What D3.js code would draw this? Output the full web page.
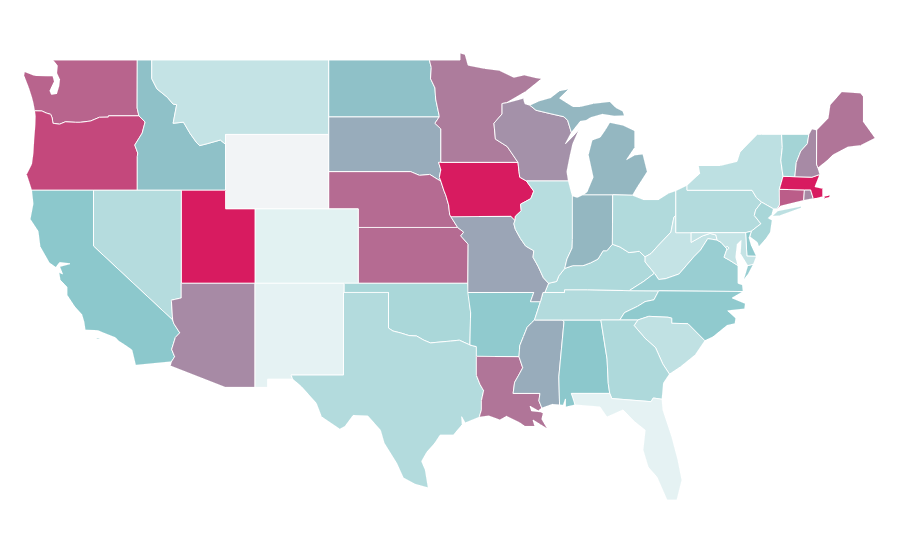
<!DOCTYPE html>
<html>
<head>
<meta charset="utf-8">
<script src="https://cdn.jsdelivr.net/npm/d3@7"></script>
<style>
  html, body { margin: 0; background: #fff; }
  svg { display: block; }
  .state { stroke: #fff; stroke-width: 0.9; stroke-linejoin: round; shape-rendering: crispEdges; }
</style>
</head>
<body>
<svg id="map" width="900" height="560"></svg>
<script>
// shared borders, [lon, lat]
const columbia = [[-124.0,46.27],[-123.5,46.26],[-123.2,46.15],[-122.9,46.08],[-122.8,45.88],[-122.75,45.6],[-122.3,45.55],[-121.9,45.68],[-121.2,45.65],[-120.9,45.65],[-120.2,45.72],[-119.6,45.92],[-119.0,45.93],[-118.98,46.0],[-116.92,46.0]];
const snake = [[-116.92,46.0],[-116.5,45.67],[-116.7,45.07],[-117.2,44.43],[-117.0,44.0],[-117.03,43.8],[-117.03,42]];
const bitterroot = [[-116.05,49],[-116.05,48.0],[-115.7,47.45],[-115.0,47.0],[-114.6,46.63],[-114.36,46.6],[-114.6,45.6],[-113.9,45.66],[-113.45,45.05],[-113.0,44.55],[-112.8,44.4],[-112.3,44.5],[-111.4,44.7],[-111.05,44.47]];
const redNorth = [[-97.23,49],[-97.1,48.6],[-97.15,48.0],[-96.85,47.5],[-96.8,46.9],[-96.56,46.0],[-96.56,45.94]];
const mnSd = [[-96.56,45.94],[-96.85,45.6],[-96.45,45.3],[-96.45,43.5]];
const bigSioux = [[-96.6,43.5],[-96.45,43.1],[-96.55,42.7],[-96.45,42.49]];
const missouriUpper = [[-98.5,43],[-97.9,42.8],[-97.2,42.85],[-96.7,42.6],[-96.45,42.49]];
const missouriIowa = [[-96.45,42.49],[-96.25,42.0],[-96.1,41.7],[-95.92,41.2],[-95.85,40.7],[-95.77,40.58]];
const missouriLower = [[-95.77,40.58],[-95.31,40.0]];
const missouriKs = [[-95.31,40.0],[-94.9,39.75],[-95.1,39.55],[-94.6,39.1],[-94.62,37]];
const upperMiss = [[-91.22,43.5],[-91.15,43.0],[-91.1,42.7],[-90.65,42.5]];
const iowaIl = [[-90.65,42.5],[-90.15,41.95],[-90.35,41.55],[-91.05,41.25],[-91.0,40.9],[-91.4,40.6],[-91.42,40.38]];
const missIl = [[-91.42,40.38],[-91.5,40.2],[-91.4,39.9],[-91.05,39.4],[-90.7,39.0],[-90.15,38.75],[-90.2,38.4],[-89.85,37.9],[-89.5,37.3],[-89.15,37.0]];
const missKyTn = [[-89.15,37.0],[-89.4,36.5]];
const missBoot = [[-89.4,36.5],[-89.53,36.5],[-89.7,36.0]];
const missTn = [[-89.7,36.0],[-89.9,35.5],[-90.1,35.0]];
const missAr = [[-90.1,35.0],[-90.3,34.85],[-90.6,34.6],[-90.85,34.1],[-91.1,33.6],[-91.15,33.0]];
const missLa = [[-91.15,33.0],[-90.9,32.4],[-91.1,32.1],[-91.45,31.6],[-91.55,31.0]];
const colorado = [[-114.63,35.0],[-114.55,34.8],[-114.15,34.3],[-114.45,34.05],[-114.7,33.4],[-114.5,33.0],[-114.72,32.72]];
const red = [[-100,34.56],[-99.7,34.4],[-99.2,34.3],[-98.6,34.15],[-98.1,34.13],[-97.6,33.9],[-97.15,33.75],[-96.5,33.8],[-95.8,33.85],[-95.2,33.9],[-94.48,33.64]];
const sabine = [[-94.04,31.99],[-93.8,31.5],[-93.55,31.15],[-93.7,30.6],[-93.7,30.1],[-93.85,29.7]];
const pearl = [[-89.73,31.0],[-89.8,30.6],[-89.6,30.2]];
const stCroix = [[-92.3,46.66],[-92.3,46.1],[-92.85,45.6],[-92.75,44.75],[-91.95,44.35],[-91.22,43.5]];
const wiUp = [[-90.42,46.57],[-90.0,46.3],[-89.1,46.13],[-88.1,45.95],[-87.85,45.75],[-87.6,45.1]];
const wabash = [[-88.05,37.8],[-87.9,38.3],[-87.55,38.9],[-87.53,39.35],[-87.53,41.7]];
const ohioIn = [[-84.82,39.1],[-85.2,38.75],[-85.45,38.75],[-85.8,38.3],[-86.3,38.1],[-86.8,37.95],[-87.5,37.95],[-88.05,37.8]];
const ohioIl = [[-88.05,37.8],[-88.45,37.4],[-88.6,37.1],[-89.15,37.0]];
const ohioOh = [[-82.6,38.42],[-83.0,38.72],[-83.7,38.65],[-84.3,38.95],[-84.82,39.1]];
const ohioWv = [[-80.52,40.64],[-80.65,40.55],[-80.85,39.75],[-81.75,39.0],[-82.2,38.6],[-82.6,38.42]];
const bigSandy = [[-82.6,38.42],[-82.6,38.15],[-81.97,37.54]];
const kyVa = [[-81.97,37.54],[-82.7,37.1],[-83.68,36.6]];
const kyTn = [[-83.68,36.6],[-86.5,36.65],[-88.07,36.65],[-88.07,36.5],[-89.4,36.5]];
const wvVa = [[-81.97,37.54],[-81.68,37.2],[-81.2,37.25],[-80.3,37.5],[-79.3,38.42],[-78.85,38.78],[-78.35,39.4],[-77.72,39.32]];
const potomac = [[-77.72,39.32],[-77.45,39.2],[-77.05,38.85],[-77.25,38.4],[-76.9,38.25],[-76.3,37.95]];
const wvMd = [[-77.72,39.32],[-77.8,39.6],[-78.2,39.68],[-78.7,39.55],[-79.48,39.2],[-79.48,39.72]];
const tnNc = [[-81.68,36.59],[-82.0,36.1],[-82.6,36.0],[-83.1,35.75],[-84.0,35.4],[-84.32,35.0]];
const ncSc = [[-83.1,35.0],[-82.35,35.2],[-81.05,35.15],[-80.8,35.1],[-80.8,34.82],[-79.7,34.8],[-78.55,33.87]];
const savannah = [[-83.1,35.0],[-83.35,34.7],[-82.6,34.0],[-81.9,33.5],[-81.4,32.6],[-80.95,32.05]];
const chattahoochee = [[-85.6,35.0],[-85.18,32.87],[-85.1,31.55],[-85.0,31.0]];
const flGa = [[-85.0,31.0],[-84.86,30.72],[-82.2,30.55],[-82.05,30.75],[-81.45,30.68]];
const msAl = [[-88.2,35.0],[-88.1,34.9],[-88.45,31.9],[-88.4,30.37]];
const delaware = [[-75.4,39.8],[-74.75,40.2],[-75.2,40.65],[-75.1,40.95],[-74.7,41.36]];
const nhVt = [[-71.5,45.0],[-71.6,44.5],[-72.05,44.1],[-72.35,43.5],[-72.45,42.73]];
const nyVt = [[-73.35,45.0],[-73.3,44.3],[-73.4,43.6],[-73.25,42.75]];

const r = a => a.slice().reverse();
const ring = (...parts) => parts.flat();

const stateNames = ["WA","OR","ID","MT","WY","ND","SD","NE","KS","CO","UT","NV","CA","AZ","NM","OK","TX","AR","LA","MS","AL","TN","KY","MO","IA","MN","WI","IL","IN","MI","OH","WV","VA","NC","SC","GA","FL","PA","NY","NJ","DE","MD","DC","CT","RI","MA","VT","NH","ME"];
const stateValues = [79,87,52,24,0,52,58,77,77,10,100,31,50,68,8,36,32,48,74,58,50,32,34,60,100,72,66,30,55,55,33,24,44,48,26,34,8,32,27,37,48,24,30,81,68,100,39,68,74];

const waRing = ring([[-117.03,49],[-117.04,46.42]], r(columbia), [[-124.1,46.7],[-124.2,47.0],[-124.4,47.5],[-124.73,48.17],[-124.68,48.38],[-124.0,48.17],[-123.2,48.15],[-122.75,48.15],[-122.65,47.85],[-122.95,47.35],[-122.85,47.15],[-122.5,47.2],[-122.35,47.6],[-122.3,47.95],[-122.5,48.3],[-122.45,48.7],[-122.76,49]]);
const orRing = ring(columbia, snake, [[-124.2,42],[-124.4,42.5],[-124.55,42.85],[-124.2,43.4],[-124.1,44.0],[-124.05,44.7],[-123.97,45.5],[-123.95,46.0]]);
const idRing = ring([[-117.03,49]], bitterroot, [[-111.05,42]], r(snake), [[-117.04,46.42]]);
const mtRing = ring(bitterroot, [[-111.05,45],[-104.05,45],[-104.05,49]]);
const wyRing = [[-111.05,45],[-104.05,45],[-104.05,41],[-111.05,41]];
const ndRing = ring(redNorth, [[-104.05,45.94],[-104.05,49]]);
const sdRing = ring(mnSd, [[-96.6,43.5]], bigSioux, r(missouriUpper), [[-104.05,43],[-104.05,45.94]]);
const neRing = ring([[-104.05,43]], missouriUpper, missouriIowa, missouriLower, [[-102.05,40],[-102.05,41],[-104.05,41]]);
const ksRing = ring([[-102.05,40]], missouriKs, [[-102.05,37]]);
const coRing = [[-109.05,41],[-102.05,41],[-102.05,37],[-109.05,37]];
const utRing = [[-114.05,42],[-111.05,42],[-111.05,41],[-109.05,41],[-109.05,37],[-114.05,37]];
const nvRing = [[-120,42],[-114.05,42],[-114.05,36.2],[-114.72,36.08],[-114.63,35.0],[-120,39]];
const caRing = ring([[-124.2,42],[-120,42],[-120,39]], colorado, [[-117.15,32.53],[-117.2,32.7],[-117.4,33.37],[-117.9,33.65],[-118.3,33.85],[-118.5,34.03],[-119.35,34.3],[-119.7,34.42],[-120.57,34.45],[-120.65,34.9],[-120.8,35.3],[-121.3,35.75],[-121.8,36.36],[-121.8,36.8],[-122.27,37.18],[-122.35,37.6],[-122.1,37.5],[-122.3,37.9],[-121.6,38.05],[-122.3,38.12],[-122.55,37.85],[-123.0,38.1],[-123.63,38.98],[-123.76,39.8],[-124.3,40.45],[-124.1,41.27]]);
const caIsland = [[-119.9,34.03],[-119.5,34.02],[-119.7,33.95]];
const azRing = ring([[-114.05,37],[-109.05,37],[-109.05,31.33],[-111.07,31.33],[-114.8,32.5]], r(colorado), [[-114.72,36.08],[-114.05,36.2]]);
const nmRing = [[-109.05,37],[-103.0,37],[-103.05,32],[-106.6,32],[-106.5,31.78],[-108.2,31.78],[-108.2,31.33],[-109.05,31.33]];
const okRing = ring([[-103,37],[-94.62,37],[-94.43,35.4]], r(red), [[-100,36.5],[-103,36.5]]);
const txRing = ring([[-103.05,36.5],[-100,36.5]], red, [[-94.04,33.55]], sabine, [[-94.8,29.39],[-95.04,29.73],[-95.0,29.3],[-95.6,28.73],[-96.5,28.73],[-96.85,28.3],[-97.4,27.8],[-97.75,27.3],[-97.5,26.83],[-97.3,25.85],[-98.2,26.05],[-99.0,26.4],[-99.45,27.2],[-100.3,28.3],[-100.55,29.0],[-101.4,29.77],[-102.4,29.8],[-102.95,29.2],[-103.3,29.05],[-104.55,29.73],[-104.9,30.47],[-105.9,31.37],[-106.5,31.78],[-106.6,32],[-103.05,32]]);
const arRing = ring([[-94.62,36.5],[-90.15,36.5],[-90.37,36.0]], missTn, missAr, [[-94.04,33.02],[-94.04,33.55],[-94.48,33.64],[-94.43,35.4]]);
const laRing = ring([[-94.04,33.02]], missLa, pearl, [[-89.85,30.05],[-90.4,30.3],[-90.3,30.05],[-89.7,30.0],[-89.5,29.93],[-89.6,29.6],[-89.2,29.05],[-89.7,29.3],[-90.2,29.55],[-90.07,29.2],[-90.75,29.2],[-91.1,29.4],[-92.0,29.75],[-92.45,29.55],[-93.2,29.77]], r(sabine));
const msRing = ring(msAl, [[-88.9,30.4]], r(pearl), r(missLa), r(missAr));
const alRing = ring([[-88.2,35.0],[-85.6,35.0]], chattahoochee.slice(1), [[-87.6,31.0],[-87.4,30.65],[-87.35,30.37],[-88.0,30.25],[-88.0,30.7],[-88.15,30.35]], r(msAl));
const tnRing = ring(r(kyTn), tnNc, [[-85.6,35.0],[-88.2,35.0]], r(missTn), r(missBoot));
const kyRing = ring(r(ohioIl), r(ohioIn), r(ohioOh), bigSandy, kyVa, kyTn);
const moRing = ring([[-95.77,40.58],[-91.7,40.6]], missIl, missKyTn, missBoot, [[-90.37,36.0],[-90.15,36.5],[-94.62,36.5]], r(missouriKs), r(missouriLower));
const iaRing = ring([[-96.6,43.5]], upperMiss, iowaIl, [[-91.7,40.6],[-95.77,40.58]], r(missouriIowa), r(bigSioux));
const mnRing = ring([[-97.23,49],[-95.15,49],[-95.15,49.38],[-94.8,49.3],[-94.6,48.72],[-93.5,48.55],[-92.5,48.45],[-91.5,48.07],[-90.8,48.2],[-90.0,48.05],[-89.6,48.0],[-90.7,47.3],[-92.0,46.7]], stCroix, [[-96.45,43.5]], r(mnSd), r(redNorth));
const wiRing = ring([[-92.0,46.7],[-91.2,46.87],[-90.85,46.95],[-90.75,46.65]], wiUp, [[-88.0,44.5],[-87.5,44.9],[-87.08,45.25],[-87.5,44.5],[-87.7,43.8],[-87.9,43.0],[-87.8,42.5]], r(upperMiss), r(stCroix));
const ilRing = ring([[-90.65,42.5],[-87.8,42.5],[-87.6,41.9]], r(wabash), ohioIl, r(missIl), r(iowaIl));
const inRing = ring([[-87.53,41.7],[-87.2,41.62],[-86.82,41.76],[-84.8,41.76]], ohioIn, wabash);
const miLower = [[-86.82,41.76],[-84.8,41.76],[-83.45,41.73],[-83.1,42.2],[-82.85,42.5],[-82.45,43.0],[-82.75,43.95],[-83.3,43.9],[-83.85,43.65],[-83.3,44.3],[-83.3,45.2],[-84.1,45.5],[-85.0,45.65],[-85.3,45.25],[-85.65,44.85],[-86.2,44.7],[-86.46,43.9],[-86.13,42.7],[-86.55,41.9]];
const miUpper = ring([[-89.8,46.8],[-89.0,46.98],[-88.4,47.35],[-87.75,47.45],[-88.4,46.95],[-87.5,46.5],[-87,46.5],[-86.1,46.67],[-85.0,46.77],[-84.6,46.45],[-84.1,46.25],[-84.0,46.0],[-84.7,45.98],[-85.5,46.08],[-86.3,45.9],[-86.6,45.75],[-87.0,45.7]], r(wiUp));
const ohRing = ring([[-84.8,41.76],[-83.45,41.73],[-82.7,41.5],[-81.7,41.5],[-81.0,41.85],[-80.52,41.98]], ohioWv, ohioOh);
const wvRing = ring(ohioWv, bigSandy, wvVa, wvMd, [[-80.52,39.72]]);
const vaRing = ring(r(kyVa), wvVa, potomac, [[-76.3,37.5],[-76.3,37.0],[-76.0,36.92],[-75.95,36.55],[-81.68,36.59]]);
const vaShore = [[-75.95,37.15],[-75.6,37.5],[-75.25,38.03],[-75.65,37.95]];
const ncRing = ring([[-81.68,36.59],[-75.95,36.55],[-76.7,36.2],[-75.8,35.9],[-75.85,35.6],[-77,35.5],[-76.45,35.1],[-76.5,34.8],[-77.05,34.7],[-78,34.08]], r(ncSc), r(tnNc));
const scRing = ring(ncSc, [[-79.2,33.1],[-80.2,32.45]], r(savannah));
const gaRing = ring(chattahoochee, flGa, [[-81.35,31.57]], r(savannah), [[-84.32,35.0]]);
const flRing = ring([[-87.6,31.0]], flGa, [[-81.39,30.1],[-80.78,28.62],[-80.37,27.37],[-80.1,26.28],[-80.44,25.19],[-81.12,25.19],[-81.8,26.44],[-82.4,26.99],[-82.75,27.92],[-82.6,29.0],[-83.29,29.44],[-84.1,30.1],[-85.19,29.71],[-85.66,30.26],[-87.35,30.37]]);
const paRing = ring([[-80.52,41.98],[-79.76,42.27],[-79.76,42.0],[-75.35,42.0],[-75.05,41.6]], r(delaware), [[-75.79,39.72],[-80.52,39.72]]);
const nyRing = ring([[-79.76,42.0],[-79.76,42.27],[-78.9,42.9],[-79.0,43.33],[-77.5,43.33],[-76.37,43.55],[-76.17,44.05],[-75.0,45],[-74.7,45.0]], nyVt, [[-73.5,42.05],[-73.49,41.2],[-73.65,41.0],[-73.9,41.0],[-74.7,41.36],[-75.05,41.6],[-75.35,42.0]]);
const longIsland = [[-74.0,40.6],[-73.6,40.9],[-72.0,41.15],[-72.0,41.05],[-73.5,40.62]];
const njRing = ring(delaware, [[-73.9,41.0],[-74.0,40.7],[-74.25,40.5],[-73.98,40.4],[-74.1,39.75],[-74.4,39.4],[-74.9,38.95],[-75.0,39.2],[-75.5,39.5]]);
const deRing = [[-75.79,39.72],[-75.4,39.8],[-75.55,39.45],[-75.4,39.05],[-75.05,38.45],[-75.7,38.46]];
const mdRing = ring([[-79.48,39.72],[-75.79,39.72],[-75.7,38.46],[-75.05,38.45],[-75.25,38.03],[-75.65,37.95],[-76.15,38.6],[-76.1,39.3],[-76.35,39.1],[-76.45,38.4]], r(potomac), wvMd.slice(1));
const dcRing = [[-77.12,38.93],[-77.04,39.0],[-76.91,38.89],[-77.04,38.79]];
const ctRing = [[-73.5,42.05],[-71.8,42.02],[-71.85,41.45],[-73.4,41.15],[-73.65,41.0],[-73.49,41.2]];
const riRing = [[-71.8,42.02],[-71.38,42.02],[-71.2,41.55],[-71.85,41.45]];
const maRing = [[-73.25,42.75],[-72.45,42.73],[-71.3,42.7],[-70.75,42.85],[-71.08,42.19],[-70.56,42.1],[-70.56,41.65],[-71.0,41.56],[-71.2,41.55],[-71.38,42.02],[-71.8,42.02],[-73.5,42.05]];
const maIsland = [[-70.45,41.68],[-70.05,41.75],[-70.1,41.62],[-70.45,41.55]];
const vtRing = ring(nhVt, r(nyVt));
const nhRing = ring([[-71.5,45.0],[-71.3,45.3],[-70.97,45.24],[-70.98,43.4],[-70.88,43.2],[-70.75,42.85],[-71.3,42.7]], r(nhVt));
const meRing = [[-70.97,45.24],[-70.2,45.87],[-70.07,46.58],[-69.27,47.3],[-68,47.23],[-67.8,47.03],[-67.8,45.68],[-67.45,45.3],[-67.0,44.8],[-68.0,44.4],[-68.85,44.32],[-69.86,43.9],[-70.25,43.6],[-70.88,43.2],[-70.98,43.4]];

const stateRings = [[waRing],[orRing],[idRing],[mtRing],[wyRing],[ndRing],[sdRing],[neRing],[ksRing],[coRing],[utRing],[nvRing],[caRing,caIsland],[azRing],[nmRing],[okRing],[txRing],[arRing],[laRing],[msRing],[alRing],[tnRing],[kyRing],[moRing],[iaRing],[mnRing],[wiRing],[ilRing],[inRing],[miLower,miUpper],[ohRing],[wvRing],[vaRing,vaShore],[ncRing],[scRing],[gaRing],[flRing],[paRing],[nyRing,longIsland],[njRing],[deRing],[mdRing],[dcRing],[ctRing],[riRing],[maRing,maIsland],[vtRing],[nhRing],[meRing]];

const features = stateNames.map((id, i) => ({
    type: "Feature",
    id,
    properties: { value: stateValues[i] },
    geometry: { type: "MultiPolygon", coordinates: stateRings[i].map(rg => [rg.concat([rg[0]])]) }
}));

const x = d3.scaleLinear().domain([-109.05, -102.05]).range([255, 358.25]);
const y = d3.scaleLinear().domain([49, 37, 25.1]).range([60, 283.3, 501.7]);
const projection = d3.geoTransform({
    point(lon, lat) { this.stream.point(x(lon), y(lat)); }
});
const path = d3.geoPath(projection);

const color = d3.scaleLinear()
    .domain([0, 10, 50, 100])
    .range(["#f2f4f6", "#e2f2f2", "#8cc8cc", "#d81b60"]);

d3.select("#map").append("g")
    .selectAll("path")
    .data(features)
    .join("path")
    .attr("class", "state")
    .attr("fill", d => color(d.properties.value))
    .attr("d", path);
</script>
</body>
</html>
